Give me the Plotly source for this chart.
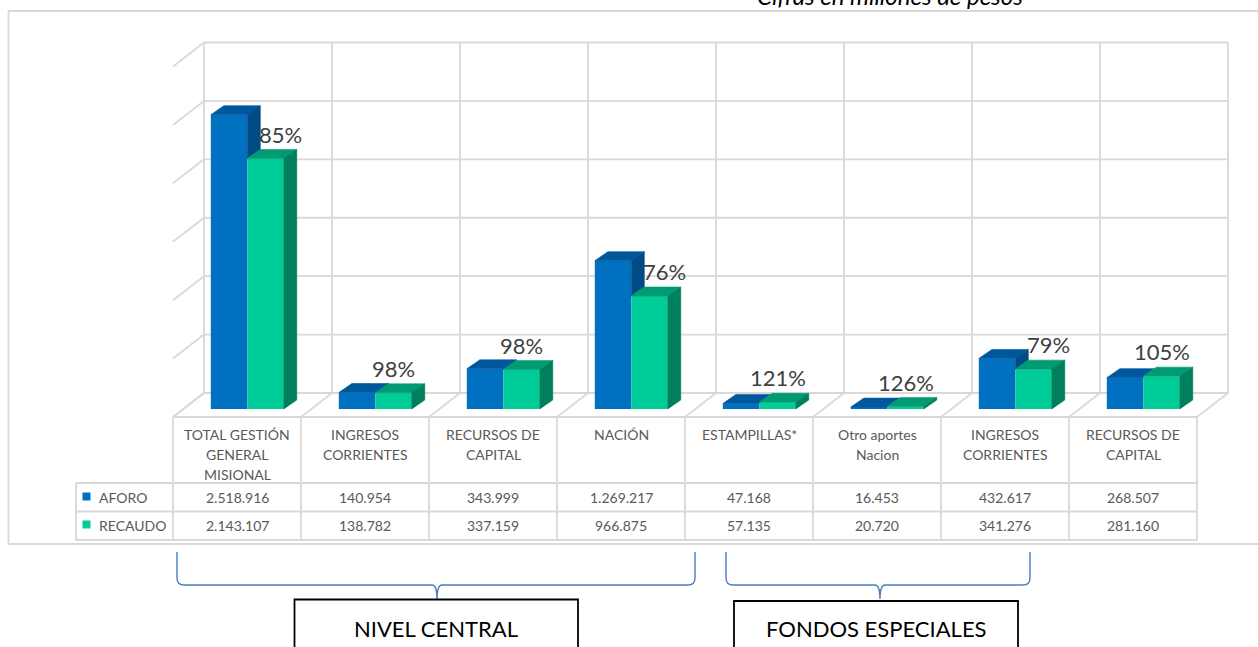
import plotly.graph_objects as go

# ---------------- data ----------------
categories = ["TOTAL GESTIÓN<br>GENERAL<br>MISIONAL", "INGRESOS<br>CORRIENTES", "RECURSOS DE<br>CAPITAL",
              "NACIÓN", "ESTAMPILLAS*", "Otro aportes<br>Nacion", "INGRESOS<br>CORRIENTES",
              "RECURSOS DE<br>CAPITAL"]
aforo = [2518916, 140954, 343999, 1269217, 47168, 16453, 432617, 268507]
recaudo = [2143107, 138782, 337159, 966875, 57135, 20720, 341276, 281160]
series_names = ["AFORO", "RECAUDO"]
group_names = ["NIVEL CENTRAL", "FONDOS ESPECIALES"]
title_text = "Cifras en millones de pesos"
axis_max = 3000000
grid_step = 500000

# ---------------- styling / geometry ----------------
W, H = 1258, 647
FONT = "Lato, 'Open Sans', sans-serif"
C_AF, C_AF_TOP, C_AF_SIDE = "#0070C0", "#00589C", "#004B85"
C_RE, C_RE_TOP, C_RE_SIDE = "#00CC99", "#009B72", "#007F5C"
GRID = "#D9D9D9"
TXT = "#595959"
LBL = "#404040"
BRACE = "#4A7EBB"

CAT_PX = 128.0          # width of one category in pixels
X_LEFT_PX = 183.3       # left edge of first category on the bar plane
BASE_PX = 409.0         # pixel row of value 0 on the bar plane
UNITS_PER_PX = axis_max / 350.5

x_range = [-0.5 - X_LEFT_PX / CAT_PX, -0.5 + (W - X_LEFT_PX) / CAT_PX]
y_range = [-(H - BASE_PX) * UNITS_PER_PX, BASE_PX * UNITS_PER_PX]


def ddx(px):
    return px / CAT_PX


def ddy(px):
    return px * UNITS_PER_PX


def PX(px):
    return px / W


def PY(py):
    return 1 - py / H


BACK_DX, BACK_DY = ddx(20.7), ddy(16)
FRONT_DX, FRONT_DY = ddx(-10.3), ddy(-8)
BAR_W = 0.285
DX, DY = ddx(13), ddy(9)
LABEL_UP = ddy(24.5)
LABEL_SHIFT = ddx(15)
SHIFT_MIN_DIFF = ddy(6)   # shift label right only when the blue bar side clearly shows

n = len(categories)
xs = list(range(n))

fig = go.Figure()

# ---------------- bar front faces ----------------
fig.add_trace(go.Bar(x=xs, y=aforo, width=BAR_W, offset=-BAR_W, name=series_names[0],
                     marker=dict(color=C_AF, line=dict(width=0)), hoverinfo="skip"))
fig.add_trace(go.Bar(x=xs, y=recaudo, width=BAR_W, offset=0, name=series_names[1],
                     marker=dict(color=C_RE, line=dict(width=0)), hoverinfo="skip"))


def poly_trace(polys, color):
    X, Y = [], []
    for p in polys:
        for a, b in p:
            X.append(a)
            Y.append(b)
        X.append(p[0][0])
        Y.append(p[0][1])
        X.append(None)
        Y.append(None)
    return go.Scatter(x=X, y=Y, mode="lines", fill="toself", fillcolor=color,
                      line=dict(width=0.6, color=color), hoverinfo="skip", showlegend=False)


af_tops, af_sides, re_tops, re_sides = [], [], [], []
for i in xs:
    ha, hr = aforo[i], recaudo[i]
    x0, x1, x2 = i - BAR_W, i, i + BAR_W
    if ha >= hr:
        af_tops.append([(x0, ha), (x1, ha), (x1 + DX, ha + DY), (x0 + DX, ha + DY)])
        af_sides.append([(x1, hr), (x1, ha), (x1 + DX, ha + DY), (x1 + DX, hr + DY)])
    else:
        hc = min(hr, ha + DY)
        xt = x1 + max(0, ha + DY - hr) * DX / DY
        af_tops.append([(x0, ha), (x1, ha), (x1, hc), (xt, ha + DY), (x0 + DX, ha + DY)])
    re_tops.append([(x1, hr), (x2, hr), (x2 + DX, hr + DY), (x1 + DX, hr + DY)])
    re_sides.append([(x2, 0), (x2, hr), (x2 + DX, hr + DY), (x2 + DX, DY)])

fig.add_trace(poly_trace(af_tops, C_AF_TOP))
fig.add_trace(poly_trace(af_sides, C_AF_SIDE))
fig.add_trace(poly_trace(re_tops, C_RE_TOP))
fig.add_trace(poly_trace(re_sides, C_RE_SIDE))

shapes = []


def dline(xa, ya, xb, yb, color=GRID, width=1.8, layer="below"):
    shapes.append(dict(type="line", xref="x", yref="y", x0=xa, y0=ya, x1=xb, y1=yb,
                       line=dict(color=color, width=width), layer=layer))


# back wall, side wall and floor
levels = [k * grid_step for k in range(int(axis_max / grid_step) + 1)]
for v in levels:
    dline(-0.5 + BACK_DX, v + BACK_DY, n - 0.5 + BACK_DX, v + BACK_DY)
    dline(-0.5 + FRONT_DX, v + FRONT_DY, -0.5 + BACK_DX, v + BACK_DY)
for k in range(n + 1):
    dline(k - 0.5 + BACK_DX, BACK_DY, k - 0.5 + BACK_DX, axis_max + BACK_DY)
    dline(k - 0.5 + FRONT_DX, FRONT_DY, k - 0.5 + BACK_DX, BACK_DY)

# ---------------- data table ----------------
T_TOP, T_R1, T_R2, T_BOT = 417, 483, 511.5, 540
LEG_L = 76


def tline(xa, ya, xb, yb, xref="x", color=GRID, width=1.8):
    shapes.append(dict(type="line", xref=xref, yref="paper", x0=xa, y0=PY(ya), x1=xb, y1=PY(yb),
                       line=dict(color=color, width=width), layer="above"))


col_x = [k - 0.5 + FRONT_DX for k in range(n + 1)]
tline(col_x[0], T_TOP, col_x[-1], T_TOP)
for cx in col_x:
    tline(cx, T_TOP, cx, T_BOT)
for yy in (T_R1, T_R2, T_BOT):
    shapes.append(dict(type="line", xref="paper", yref="paper", x0=PX(LEG_L), y0=PY(yy),
                       x1=PX(173 + CAT_PX * n), y1=PY(yy), line=dict(color=GRID, width=1.8)))
shapes.append(dict(type="line", xref="paper", yref="paper", x0=PX(LEG_L), y0=PY(T_R1),
                   x1=PX(LEG_L), y1=PY(T_BOT), line=dict(color=GRID, width=1.8)))

annotations = []
tfont = dict(family=FONT, size=14, color=TXT)
for i, cat in enumerate(categories):
    for j, line in enumerate(cat.split("<br>")):
        annotations.append(dict(x=i + FRONT_DX, y=PY(435 + 19.5 * j), xref="x", yref="paper",
                                text=line, showarrow=False, font=tfont,
                                xanchor="center", yanchor="middle"))


def fmt(v):
    return f"{v:,}".replace(",", ".")


row_y = [497, 525]
for s, (vals, col) in enumerate(((aforo, C_AF), (recaudo, C_RE))):
    for i, v in enumerate(vals):
        annotations.append(dict(x=i + FRONT_DX, y=PY(row_y[s]), xref="x", yref="paper",
                                text=fmt(v), showarrow=False, font=tfont,
                                xanchor="center", yanchor="middle"))
    annotations.append(dict(x=PX(97), y=PY(row_y[s]), xref="paper", yref="paper",
                            text=series_names[s], showarrow=False, font=tfont,
                            xanchor="left", yanchor="middle"))
    shapes.append(dict(type="rect", xref="paper", yref="paper", x0=PX(82.5), x1=PX(90.5),
                       y0=PY(row_y[s] - 4.5), y1=PY(row_y[s] + 3.5),
                       fillcolor=col, line=dict(width=0)))

# ---------------- percentage labels ----------------
for i in xs:
    a, r = aforo[i], recaudo[i]
    pct = round(100 * r / a)
    xl = i + BAR_W / 2 + (LABEL_SHIFT if a - r > SHIFT_MIN_DIFF else 0)
    annotations.append(dict(x=xl, y=r + LABEL_UP, xref="x", yref="y", text=f"{pct}%",
                            showarrow=False, font=dict(family=FONT, size=22, color=LBL),
                            xanchor="center", yanchor="middle"))

# ---------------- outer chart border ----------------
shapes.append(dict(type="rect", xref="paper", yref="paper", x0=PX(8.5), x1=PX(1275),
                   y0=PY(544), y1=PY(11), line=dict(color=GRID, width=1.8), layer="below"))

# title (partially outside the page, as in the original)
annotations.append(dict(x=PX(890), y=PY(-4), xref="paper", yref="paper",
                        text=f"<i>{title_text}</i>", showarrow=False,
                        font=dict(family=FONT, size=24, color="#000000"),
                        xanchor="center", yanchor="middle"))

# ---------------- braces and group boxes ----------------


def brace(xl, xr, xm, ytop=552, yh=585, ytip=599, r=7):
    p = (f"M {PX(xl)},{PY(ytop)} L {PX(xl)},{PY(yh - r)} "
         f"Q {PX(xl)},{PY(yh)} {PX(xl + r)},{PY(yh)} "
         f"L {PX(xm - 5)},{PY(yh)} Q {PX(xm)},{PY(yh)} {PX(xm)},{PY(ytip)} "
         f"Q {PX(xm)},{PY(yh)} {PX(xm + 5)},{PY(yh)} "
         f"L {PX(xr - r)},{PY(yh)} Q {PX(xr)},{PY(yh)} {PX(xr)},{PY(yh - r)} "
         f"L {PX(xr)},{PY(ytop)}")
    shapes.append(dict(type="path", xref="paper", yref="paper", path=p,
                       line=dict(color=BRACE, width=1.4)))


brace(177, 695, 437)
brace(726, 1030, 880)

boxes = [(294.5, 578), (734, 1018)]
box_tops = [599.5, 601]
for (bl, br), bt, name in zip(boxes, box_tops, group_names):
    shapes.append(dict(type="rect", xref="paper", yref="paper", x0=PX(bl), x1=PX(br),
                       y0=PY(bt), y1=PY(665), fillcolor="white",
                       line=dict(color="#000000", width=1.8)))
    annotations.append(dict(x=PX((bl + br) / 2), y=PY(628), xref="paper", yref="paper",
                            text=name, showarrow=False,
                            font=dict(family=FONT, size=22, color="#000000"),
                            xanchor="center", yanchor="middle"))

fig.update_layout(
    width=W, height=H,
    margin=dict(l=0, r=0, t=0, b=0),
    paper_bgcolor="white", plot_bgcolor="rgba(0,0,0,0)",
    barmode="overlay", showlegend=False,
    xaxis=dict(range=x_range, visible=False, fixedrange=True, domain=[0, 1]),
    yaxis=dict(range=y_range, visible=False, fixedrange=True, domain=[0, 1]),
    shapes=shapes, annotations=annotations,
    font=dict(family=FONT),
)

fig.write_html("out.html")
